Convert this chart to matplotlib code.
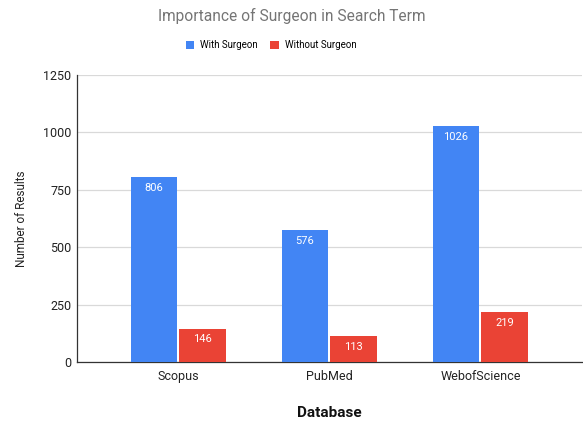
import numpy as np
import matplotlib.pyplot as plt
from matplotlib.patches import Patch

databases = ["Scopus", "PubMed", "WebofScience"]
with_surgeon = [806, 576, 1026]
without_surgeon = [146, 113, 219]
yticks = [0, 250, 500, 750, 1000, 1250]

blue = "#4285F4"
red = "#EA4335"

plt.rcParams['font.family'] = ['Roboto', 'DejaVu Sans']

fig = plt.figure(figsize=(5.83, 4.23), dpi=100)
ax = fig.add_axes([0.132, 0.144, 0.866, 0.679])

x = np.arange(len(databases))
w = 0.31
off = 0.162
b1 = ax.bar(x - off, with_surgeon, w, color=blue, zorder=3)
b2 = ax.bar(x + off, without_surgeon, w, color=red, zorder=3)

for bars in (b1, b2):
    for r in bars:
        ax.text(r.get_x() + r.get_width() / 2, r.get_height() - 47,
                str(int(r.get_height())), ha='center', va='center',
                color='white', fontsize=8, zorder=4)

ax.set_xlim(-0.672, 2.672)
ax.set_ylim(0, 1250)
ax.set_yticks(yticks)
ax.set_xticks(x)
ax.set_xticklabels(databases)
ax.tick_params(axis='both', length=0, labelsize=9, colors='#222222')
ax.tick_params(axis='x', pad=6)
ax.tick_params(axis='y', pad=4)
ax.grid(axis='y', color='#d9d9d9', linewidth=0.9, zorder=0)
for s in ['top', 'right']:
    ax.spines[s].set_visible(False)
ax.spines['left'].set_color('#333333')
ax.spines['bottom'].set_color('#333333')
ax.spines['left'].set_linewidth(0.9)
ax.spines['bottom'].set_linewidth(0.9)

ax.set_ylabel("Number of Results", fontsize=8.5, color='#222222', labelpad=11)
ax.set_xlabel("Database", fontsize=11, fontweight='bold', color='#111111', labelpad=16)

fig.text(0.5, 0.962, "Importance of Surgeon in Search Term", ha='center', va='center',
         fontsize=11.2, color='#757575')

handles = [Patch(facecolor=blue, label="With Surgeon"),
           Patch(facecolor=red, label="Without Surgeon")]
fig.legend(handles=handles, loc='center', bbox_to_anchor=(0.465, 0.893), ncol=2,
           frameon=False, fontsize=7, handlelength=0.9, handleheight=0.9,
           handletextpad=0.6, columnspacing=1.3)

fig.savefig("out.png", dpi=100)
